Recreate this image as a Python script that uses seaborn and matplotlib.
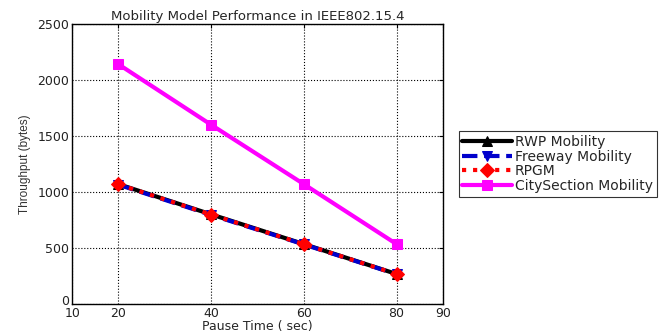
import numpy as np
import pandas as pd
import matplotlib
matplotlib.use("Agg")
import matplotlib.pyplot as plt
import matplotlib.transforms as mtransforms
import seaborn as sns

# データ
pause_time = [20, 40, 60, 80]
rwp = [1070, 800, 535, 268]
freeway = [1065, 795, 532, 266]
rpgm = [1068, 798, 534, 267]
city_section = [2140, 1600, 1070, 535]

series_names = ["RWP Mobility", "Freeway Mobility", "RPGM", "CitySection Mobility"]
x_ticks = [10, 20, 40, 60, 80, 90]
y_ticks = [0, 500, 1000, 1500, 2000, 2500]

sns.set_style("white")
plt.rcParams['font.family'] = ['DejaVu Sans']

df = pd.DataFrame({
    "Pause": pause_time * 4,
    "Throughput": rwp + freeway + rpgm + city_section,
    "Model": sum([[n] * len(pause_time) for n in series_names], []),
})

fig = plt.figure(figsize=(6.62, 3.33), dpi=100)
ax = fig.add_axes([0.109, 0.087, 0.560, 0.841])

styles = {
    "RWP Mobility": dict(color="black", ls="-", marker="^"),
    "Freeway Mobility": dict(color="#0000cc", ls="--", marker="v"),
    "RPGM": dict(color="red", ls=":", marker="D"),
    "CitySection Mobility": dict(color="#ff00ff", ls="-", marker="s"),
}

for name in series_names:
    sub = df[df["Model"] == name]
    st = styles[name]
    sns.lineplot(data=sub, x="Pause", y="Throughput", ax=ax, label=name,
                 color=st["color"], linestyle=st["ls"], marker=st["marker"],
                 markersize=7, linewidth=3, markeredgecolor=st["color"])

ax.set_xlim(10, 90)
ax.set_ylim(0, 2500)
ax.set_xticks(x_ticks)
ax.set_yticks(y_ticks)
ax.tick_params(direction="in", length=3, labelsize=9, top=True, right=True,
               labeltop=False, labelright=False, colors="black", pad=2)
for lab in ax.get_xticklabels() + ax.get_yticklabels():
    lab.set_color("#222222")
# 左下の「0」と「10」が重ならないよう少し上へ
ylabs = ax.get_yticklabels()
ylabs[0].set_transform(ylabs[0].get_transform() +
                       mtransforms.ScaledTranslation(0, 4 / 100, fig.dpi_scale_trans))
ax.grid(True, linestyle=":", color="black", linewidth=0.8)
for s in ax.spines.values():
    s.set_visible(True)
    s.set_color("black")
    s.set_linewidth(1)

ax.set_title("Mobility Model Performance in IEEE802.15.4", fontsize=9.5, pad=3)
ax.set_xlabel("Pause Time ( sec)", fontsize=9, labelpad=0)
ax.set_ylabel("Throughput (bytes)", fontsize=8.5, color="#333333", labelpad=5,
              family=["Liberation Sans Narrow", "Liberation Sans"])

leg = ax.legend(loc="center left", bbox_to_anchor=(1.043, 0.5), fontsize=10,
                frameon=True, fancybox=False, edgecolor="black",
                handlelength=3.6, borderpad=0.25, labelspacing=0.05,
                handletextpad=0.2, borderaxespad=0)
leg.get_frame().set_linewidth(0.8)

fig.savefig("out.png", dpi=100)
